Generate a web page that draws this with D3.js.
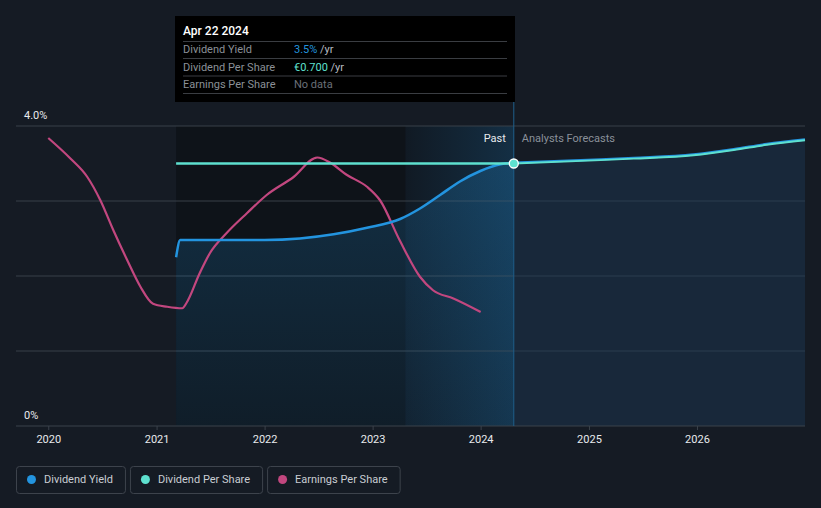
<!DOCTYPE html>
<html><head><meta charset="utf-8">
<script src="https://cdn.jsdelivr.net/npm/d3@7"></script>
<style>
body{margin:0;background:#151b24;}
svg{display:block}
text{font-family:Roboto,"Noto Sans",sans-serif}
</style>
</head><body>
<svg id="c" width="821" height="508"></svg>
<script>
// ---- data ----
const yieldDates = ["2021-03-08","2021-03-22","2021-07-01","2022-01-01","2022-04-30","2022-08-22","2022-12-13","2023-04-04","2023-06-10","2023-08-17","2023-10-23","2023-12-31","2024-03-08","2024-04-22"];
const yieldValues = [2.25,2.48,2.48,2.48,2.50,2.556,2.644,2.76,2.90,3.08,3.26,3.40,3.49,3.51];
const yieldForecastDates = ["2024-04-22","2025-02-10","2025-06-01","2025-12-20","2026-05-05","2026-08-25","2027-01-01"];
const yieldForecastValues = [3.51,3.555,3.575,3.62,3.69,3.76,3.82];

const dpsDates = ["2021-03-08","2024-04-22"];
const dpsValues = [0.700,0.700];
const dpsForecastDates = ["2024-04-22","2025-02-10","2025-06-01","2025-12-20","2026-05-05","2026-08-25","2027-01-01"];
const dpsForecastValues = [0.700,0.709,0.713,0.722,0.736,0.750,0.762];

const epsDates = ["2020-01-01","2020-03-15","2020-05-12","2020-06-25","2020-08-08","2020-09-24","2020-11-07","2020-12-20","2021-02-06","2021-03-29","2021-04-12","2021-05-27","2021-07-01","2021-08-25","2021-11-03","2022-01-08","2022-04-09","2022-06-28","2022-08-11","2022-10-05","2022-12-13","2023-01-26","2023-04-02","2023-06-10","2023-07-24","2023-10-01","2024-01-01"];
const epsValues = [3.84,3.57,3.32,3.01,2.61,2.21,1.86,1.63,1.59,1.57,1.64,2.04,2.31,2.57,2.84,3.08,3.32,3.58,3.51,3.35,3.19,3.01,2.48,1.99,1.81,1.70,1.52];

const xTickYears = [2020,2021,2022,2023,2024,2025,2026];
const yTickLabels = ["0%","4.0%"];
const yTickValues = [0,4.0];
const gridValues = [1,2,3,4];

const tooltipDate = "Apr 22 2024";
const tooltipRows = [
  {label:"Dividend Yield", value:"3.5%", unit:" /yr", color:"#2394df"},
  {label:"Dividend Per Share", value:"€0.700", unit:" /yr", color:"#5ee0cf"},
  {label:"Earnings Per Share", value:"No data", unit:"", color:"#6b7079"}
];
const legendItems = [
  {name:"Dividend Yield", color:"#2394df"},
  {name:"Dividend Per Share", color:"#5ee0cf"},
  {name:"Earnings Per Share", color:"#c2477f"}
];
const nowDate = "2024-04-22";
const pastBandStart = "2023-04-22";
const dataStart = "2021-03-08";

// ---- scales ----
const P = d3.timeParse("%Y-%m-%d");
const svg = d3.select("#c");
const pLeft = 16, pRight = 805, pTop = 126, pBottom = 426;
const x = d3.scaleTime().domain([P("2019-09-14"), P("2027-01-01")]).range([pLeft, pRight]);
const y = d3.scaleLinear().domain([0, 4.0]).range([pBottom, pTop]);
const yDps = d3.scaleLinear().domain([0, 0.8]).range([pBottom, pTop]);
const yEps = d3.scaleLinear().domain([0, 4.0]).range([pBottom, pTop]);

const defs = svg.append("defs");
const g1 = defs.append("linearGradient").attr("id","areaPast").attr("x1",0).attr("y1",0).attr("x2",0).attr("y2",1);
g1.append("stop").attr("offset","0%").attr("stop-color","#2394df").attr("stop-opacity",0.22);
g1.append("stop").attr("offset","100%").attr("stop-color","#2394df").attr("stop-opacity",0.08);
const g2 = defs.append("linearGradient").attr("id","band").attr("x1",0).attr("y1",0).attr("x2",1).attr("y2",0);
g2.append("stop").attr("offset","0%").attr("stop-color","#2394df").attr("stop-opacity",0.03);
g2.append("stop").attr("offset","100%").attr("stop-color","#2394df").attr("stop-opacity",0.2);

const xNow = x(P(nowDate)), xBand = x(P(pastBandStart)), xStart = x(P(dataStart));

// background regions
svg.append("rect").attr("x",xStart).attr("y",pTop).attr("width",xBand-xStart).attr("height",pBottom-pTop).attr("fill","#0d1117").attr("opacity",0.8);
svg.append("rect").attr("x",xBand).attr("y",pTop).attr("width",xNow-xBand).attr("height",pBottom-pTop).attr("fill","#0c1117").attr("opacity",0.5);
svg.append("rect").attr("x",xBand).attr("y",pTop).attr("width",xNow-xBand).attr("height",pBottom-pTop).attr("fill","url(#band)");

// gridlines
svg.selectAll(".grid").data(gridValues).join("line")
  .attr("x1",pLeft).attr("x2",pRight).attr("y1",d=>y(d)).attr("y2",d=>y(d))
  .attr("stroke","#394049").attr("stroke-width",1);

// area under dividend yield
const pastYield = yieldDates.map((d,i)=>({d:P(d),v:yieldValues[i]}));
const fcYield = yieldForecastDates.map((d,i)=>({d:P(d),v:yieldForecastValues[i]}));
const area = d3.area().x(d=>x(d.d)).y0(pBottom).y1(d=>y(d.v)).curve(d3.curveMonotoneX);
svg.append("path").datum(pastYield).attr("d",area).attr("fill","url(#areaPast)");
svg.append("path").datum(fcYield).attr("d",area).attr("fill","#1d3a57").attr("opacity",0.45);

// axis baseline
svg.append("line").attr("x1",pLeft).attr("x2",pRight).attr("y1",pBottom).attr("y2",pBottom).attr("stroke","#3b424b");

// vertical now line
svg.append("line").attr("x1",xNow).attr("x2",xNow).attr("y1",101).attr("y2",pBottom).attr("stroke","#1f5f8c").attr("stroke-width",1);

// EPS line
const lineEps = d3.line().x(d=>x(d.d)).y(d=>yEps(d.v)).curve(d3.curveMonotoneX);
svg.append("path").datum(epsDates.map((d,i)=>({d:P(d),v:epsValues[i]}))).attr("d",lineEps)
  .attr("fill","none").attr("stroke","#c2477f").attr("stroke-width",2.2);

// Yield line
const lineY = d3.line().x(d=>x(d.d)).y(d=>y(d.v)).curve(d3.curveMonotoneX);
svg.append("path").datum(pastYield).attr("d",lineY).attr("fill","none").attr("stroke","#2394df").attr("stroke-width",2.5);
svg.append("path").datum(fcYield).attr("d",lineY).attr("fill","none").attr("stroke","#2394df").attr("stroke-width",2.5);

// DPS line
const lineD = d3.line().x(d=>x(d.d)).y(d=>yDps(d.v)).curve(d3.curveMonotoneX);
svg.append("path").datum(dpsDates.map((d,i)=>({d:P(d),v:dpsValues[i]}))).attr("d",lineD).attr("fill","none").attr("stroke","#5ee0cf").attr("stroke-width",2.5);
svg.append("path").datum(dpsForecastDates.map((d,i)=>({d:P(d),v:dpsForecastValues[i]}))).attr("d",lineD).attr("fill","none").attr("stroke","#5ee0cf").attr("stroke-width",2);

// now marker
svg.append("circle").attr("cx",xNow).attr("cy",yDps(dpsValues[1])).attr("r",4.5).attr("fill","#5ee0cf").attr("stroke","#ffffff").attr("stroke-width",1.3);

// Past / Forecast labels
svg.append("text").attr("x",xNow-8).attr("y",142).attr("text-anchor","end").attr("fill","#e8eaed").attr("font-size",11).text("Past");
svg.append("text").attr("x",xNow+8).attr("y",142).attr("fill","#8a9099").attr("font-size",11).text("Analysts Forecasts");

// y labels
svg.selectAll(".ylab").data(yTickValues).join("text")
  .attr("x",24).attr("y",d=>y(d)-7).attr("fill","#e8eaed").attr("font-size",11)
  .text((d,i)=>yTickLabels[i]);

// x axis
const xAxis = d3.axisBottom(x).tickValues(xTickYears.map(yv=>new Date(yv,0,1))).tickFormat(d3.timeFormat("%Y")).tickSize(4).tickPadding(5);
const ax = svg.append("g").attr("transform",`translate(0,${pBottom})`).call(xAxis);
ax.select(".domain").remove();
ax.selectAll(".tick line").attr("stroke","#3b424b");
ax.selectAll(".tick text").attr("fill","#e8eaed").attr("font-size",11).attr("font-family","Roboto,sans-serif");

// tooltip
const tt = svg.append("g");
tt.append("rect").attr("x",175).attr("y",16).attr("width",340).attr("height",86).attr("fill","#000000");
tt.append("text").attr("x",183).attr("y",35).attr("fill","#ffffff").attr("font-size",12).attr("font-weight",500).text(tooltipDate);
const sepY = [41.5,58.5,76,93.5];
tt.selectAll(".sep").data(sepY).join("line").attr("x1",183).attr("x2",507).attr("y1",d=>d).attr("y2",d=>d).attr("stroke","#3a3d42").attr("stroke-width",1);
tooltipRows.forEach((r,i)=>{
  const by = 53 + i*17.5;
  tt.append("text").attr("x",183).attr("y",by).attr("fill","#8b9097").attr("font-size",11).text(r.label);
  const t = tt.append("text").attr("x",294).attr("y",by).attr("font-size",11);
  t.append("tspan").attr("fill",r.color).text(r.value);
  if (r.unit) t.append("tspan").attr("fill","#b8bcc2").text(r.unit);
});

// legend
let lx = 16;
legendItems.forEach((it)=>{
  const g = svg.append("g");
  const txt = g.append("text").attr("x",lx+28).attr("y",483).attr("fill","#c9cdd3").attr("font-size",11).text(it.name);
  const w = txt.node().getComputedTextLength() + 28 + 12;
  g.insert("rect","text").attr("x",lx+0.5).attr("y",466.5).attr("width",w).attr("height",27).attr("rx",3)
    .attr("fill","none").attr("stroke","#3d434c");
  g.append("circle").attr("cx",lx+15.5).attr("cy",479.5).attr("r",4.5).attr("fill",it.color);
  lx += w + 5;
});
</script>
</body></html>
